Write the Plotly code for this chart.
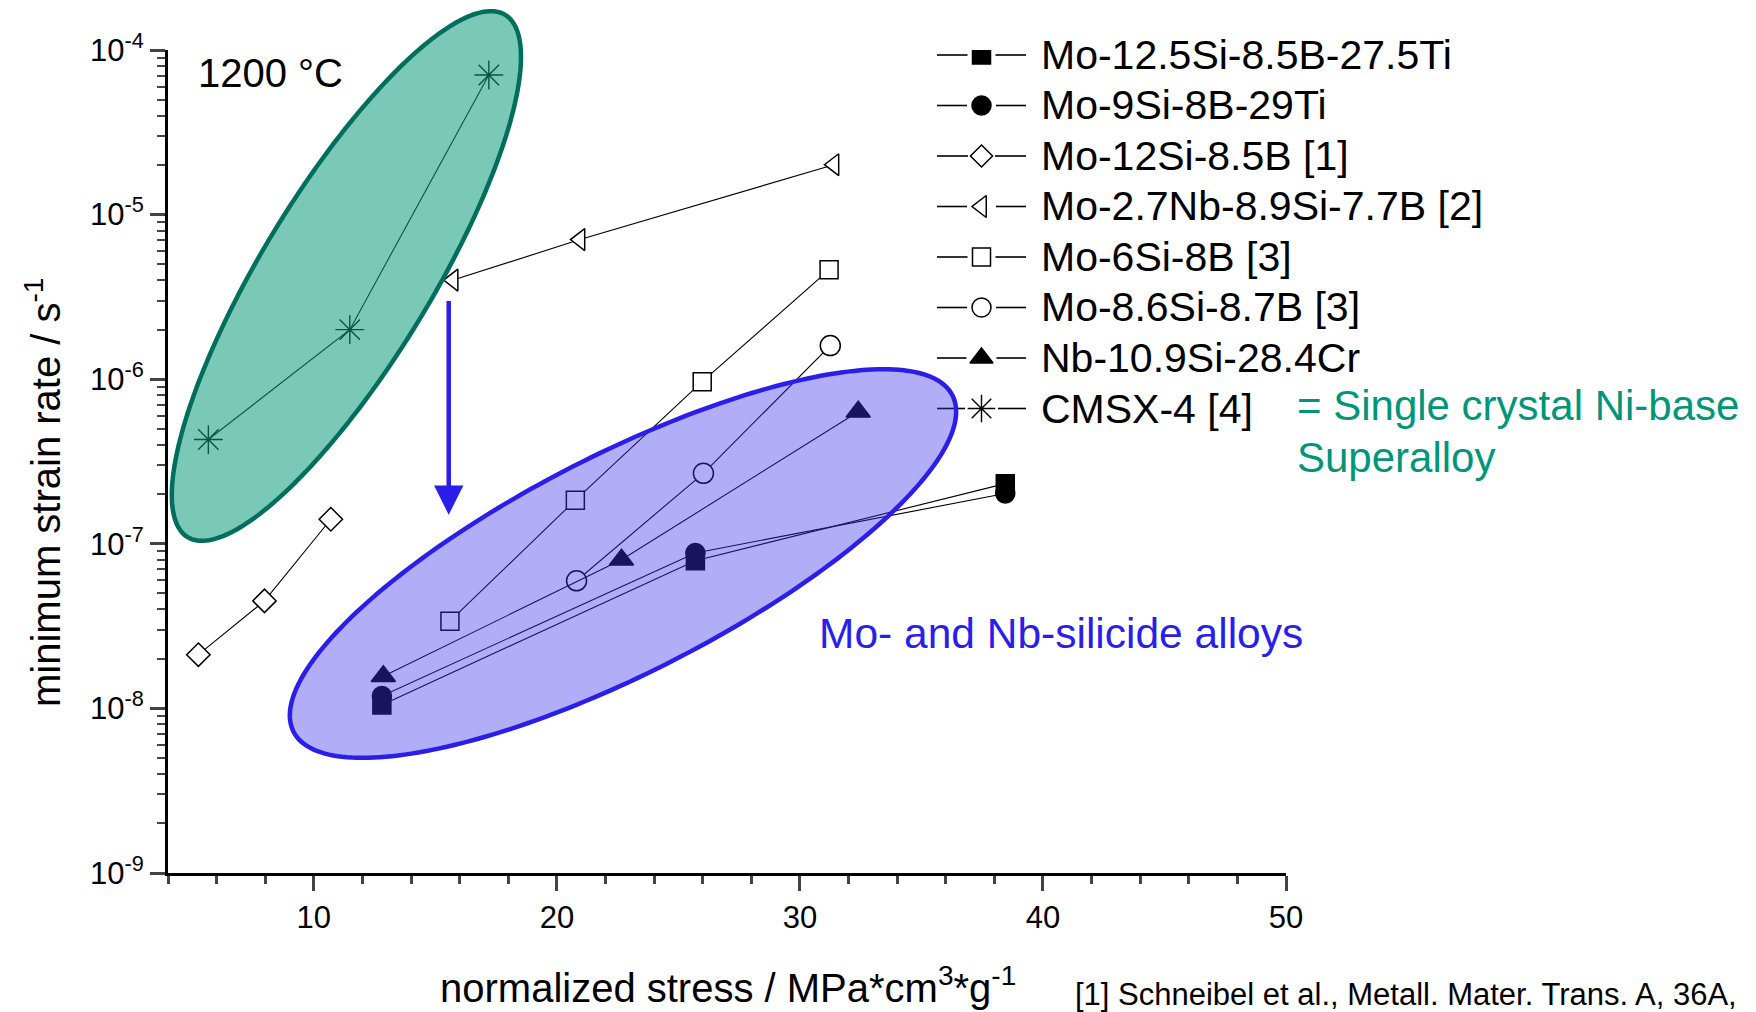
import numpy as np
import plotly.graph_objects as go

# ---------------- data ----------------
names = ["Mo-12.5Si-8.5B-27.5Ti", "Mo-9Si-8B-29Ti", "Mo-12Si-8.5B [1]",
         "Mo-2.7Nb-8.9Si-7.7B [2]", "Mo-6Si-8B [3]", "Mo-8.6Si-8.7B [3]",
         "Nb-10.9Si-28.4Cr", "CMSX-4 [4]"]

x_mo125 = [12.8, 25.7, 38.45]
y_mo125 = [1.05e-8, 7.9e-8, 2.32e-7]
x_mo9 = [12.8, 25.7, 38.45]
y_mo9 = [1.19e-8, 8.8e-8, 2.02e-7]
x_mo12 = [5.25, 7.97, 10.7]
y_mo12 = [2.12e-8, 4.5e-8, 1.41e-7]
x_mo27 = [15.73, 20.95, 31.4]
y_mo27 = [4.0e-6, 7.05e-6, 2.01e-5]
x_mo6 = [15.6, 20.76, 25.98, 31.2]
y_mo6 = [3.39e-8, 1.84e-7, 9.66e-7, 4.62e-6]
x_mo86 = [20.81, 26.03, 31.25]
y_mo86 = [5.96e-8, 2.68e-7, 1.6e-6]
x_nb = [12.86, 22.66, 32.4]
y_nb = [1.57e-8, 8.0e-8, 6.34e-7]
x_cmsx = [5.66, 11.48, 17.2]
y_cmsx = [4.3e-7, 2.0e-6, 7.05e-5]

x_ticks = [10, 20, 30, 40, 50]
y_ticks = [1e-9, 1e-8, 1e-7, 1e-6, 1e-5, 1e-4]
y_ticktext = ["10<sup>-9</sup>", "10<sup>-8</sup>", "10<sup>-7</sup>",
              "10<sup>-6</sup>", "10<sup>-5</sup>", "10<sup>-4</sup>"]

# (x, y, symbol, plot size, filled?, legend size)
series = [
    (x_mo125, y_mo125, "square", 18, True, 18),
    (x_mo9, y_mo9, "circle", 19, True, 19),
    (x_mo12, y_mo12, "diamond", 18, False, 17),
    (x_mo27, y_mo27, "triangle-left", 19, False, 19),
    (x_mo6, y_mo6, "square", 18, False, 18),
    (x_mo86, y_mo86, "circle", 20, False, 19),
    (x_nb, y_nb, "triangle-up", 21, True, 20),
    (x_cmsx, y_cmsx, "asterisk-open", 24, None, 23),
]

# ---------------- layout geometry ----------------
W, H = 1756, 1012
L, R, T, B = 168, 470, 50, 139
PW = W - L - R
PH = H - T - B
XR = [4, 50]
YR = [-9, -4]
px_per_x = PW / (XR[1] - XR[0])
px_per_dec = PH / (YR[1] - YR[0])

def px(xp):
    return (xp - L) / PW

def py(yp):
    return (H - B - yp) / PH

def data_to_px(xv, logy):
    return L + (xv - XR[0]) * px_per_x, (H - B) - (logy - YR[0]) * px_per_dec

FONT = "Liberation Sans, Arial, sans-serif"

fig = go.Figure()

for (xv, yv, sym, size, filled, _), nm in zip(series, names):
    if filled is None:
        mk = dict(symbol=sym, size=size, color="black", line=dict(color="black", width=1.4))
    else:
        mk = dict(symbol=sym, size=size, color="black" if filled else "white",
                  line=dict(color="black", width=1.5))
    fig.add_trace(go.Scatter(x=xv, y=yv, name=nm, mode="lines+markers",
                             line=dict(color="black", width=1.1), marker=mk,
                             showlegend=False))

# ---------------- hand-placed legend (pixel overlay axes) ----------------
LEG_X0, LEG_X1, LEG_TXT = 937, 1026, 1039
LEG_Y0, LEG_STEP = 55, 50.5
for i, ((xv, yv, sym, size, filled, lsize), nm) in enumerate(zip(series, names)):
    yrow = LEG_Y0 + i * LEG_STEP
    xc = (LEG_X0 + LEG_X1) / 2
    gap = lsize / 2 + 5
    if filled is None:
        col, lw = "black", 1.4
    else:
        col, lw = ("black" if filled else "white"), 1.5
    fig.add_trace(go.Scatter(
        x=[LEG_X0, xc - gap, None, xc + gap, LEG_X1], y=[yrow, yrow, None, yrow, yrow],
        xaxis="x2", yaxis="y2", mode="lines", showlegend=False,
        hoverinfo="skip", line=dict(color="black", width=1.6),
    ))
    fig.add_trace(go.Scatter(
        x=[xc], y=[yrow], xaxis="x2", yaxis="y2", mode="markers", showlegend=False,
        hoverinfo="skip",
        marker=dict(symbol=sym, size=lsize, color=col, line=dict(color="black", width=lw)),
    ))

# ---------------- decorative ellipses as paper-space shapes ----------------
def ellipse_path(cx, clogy, a, b, theta_deg, n=240):
    cxp, cyp = data_to_px(cx, clogy)
    t = np.linspace(0, 2 * np.pi, n, endpoint=False)
    th = np.radians(theta_deg)
    dx = a * np.cos(t) * np.cos(th) - b * np.sin(t) * np.sin(th)
    dy = a * np.cos(t) * np.sin(th) + b * np.sin(t) * np.cos(th)
    xs = px(cxp + dx)
    ys = py(cyp - dy)
    pts = [f"{x:.5f},{y:.5f}" for x, y in zip(xs, ys)]
    return "M" + " L".join(pts) + " Z"

shapes = [
    dict(type="path", xref="paper", yref="paper", layer="above",
         path=ellipse_path(11.34, -5.373, 305.6, 85.0, 58.7),
         fillcolor="rgba(13,155,122,0.55)", line=dict(color="#006e5c", width=4.5)),
    dict(type="path", xref="paper", yref="paper", layer="above",
         path=ellipse_path(22.72, -7.12, 369.9, 109.2, 27.05),
         fillcolor="rgba(60,50,235,0.40)", line=dict(color="#2a1ee8", width=4.5)),
]

annotations = [
    dict(x=15.55, y=np.log10(1.5e-7), ax=15.55, ay=np.log10(3.05e-6),
         xref="x", yref="y", axref="x", ayref="y", showarrow=True,
         arrowhead=2, arrowsize=1.3, arrowwidth=4.5, arrowcolor="#2a1ee8", text=""),
    dict(x=px(196), y=py(73), xref="paper", yref="paper", xanchor="left", yanchor="middle",
         text="1200 °C", showarrow=False, font=dict(size=40, color="black", family=FONT)),
    dict(x=px(817), y=py(633), xref="paper", yref="paper", xanchor="left", yanchor="middle",
         text="Mo- and Nb-silicide alloys", showarrow=False,
         font=dict(size=42.5, color="#2a1ee8", family=FONT)),
    dict(x=px(1295), y=py(405), xref="paper", yref="paper", xanchor="left", yanchor="middle",
         text="= Single crystal Ni-base", showarrow=False,
         font=dict(size=42, color="#00957a", family=FONT)),
    dict(x=px(1295), y=py(457), xref="paper", yref="paper", xanchor="left", yanchor="middle",
         text="Superalloy", showarrow=False,
         font=dict(size=42, color="#00957a", family=FONT)),
    dict(x=px(1073), y=py(994), xref="paper", yref="paper", xanchor="left", yanchor="middle",
         text="[1] Schneibel et al., Metall. Mater. Trans. A, 36A,", showarrow=False,
         font=dict(size=31, color="black", family=FONT)),
    dict(x=px(728), y=py(985), xref="paper", yref="paper", xanchor="center", yanchor="middle",
         text="normalized stress / MPa*cm<sup>3</sup>*g<sup>-1</sup>", showarrow=False,
         font=dict(size=40, color="black", family=FONT)),
    dict(x=px(43), y=py(493), xref="paper", yref="paper", xanchor="center", yanchor="middle",
         textangle=-90, text="minimum strain rate / s<sup>-1</sup>", showarrow=False,
         font=dict(size=40, color="black", family=FONT)),
]
for i, nm in enumerate(names):
    annotations.append(dict(
        x=px(LEG_TXT), y=py(LEG_Y0 + i * LEG_STEP), xref="paper", yref="paper",
        xanchor="left", yanchor="middle", text=nm, showarrow=False,
        font=dict(size=41, color="black", family=FONT)))

fig.update_layout(
    width=W, height=H,
    margin=dict(l=L, r=R, t=T, b=B, pad=0),
    paper_bgcolor="white", plot_bgcolor="white",
    font=dict(family=FONT, color="black"),
    annotations=annotations, shapes=shapes,
    showlegend=False,
    xaxis2=dict(overlaying="x", range=[L, W - R], visible=False, fixedrange=True),
    yaxis2=dict(overlaying="y", range=[H - B, T], visible=False, fixedrange=True),
    xaxis=dict(
        range=XR, tickvals=x_ticks, ticks="outside", ticklen=15, tickwidth=2.5,
        showline=True, linecolor="black", linewidth=3, showgrid=False, zeroline=False,
        tickfont=dict(size=31, family=FONT, color="black"),
        minor=dict(dtick=2, tick0=0, ticks="outside", ticklen=8, tickwidth=2.5, showgrid=False),
    ),
    yaxis=dict(
        type="log", range=YR, tickvals=y_ticks, ticktext=y_ticktext,
        ticks="outside", ticklen=15, tickwidth=2.5,
        showline=True, linecolor="black", linewidth=3, showgrid=False, zeroline=False,
        tickfont=dict(size=31, family=FONT, color="black"),
        minor=dict(dtick="D1", ticks="outside", ticklen=8, tickwidth=2, showgrid=False),
    ),
)

fig.write_html("out.html")
